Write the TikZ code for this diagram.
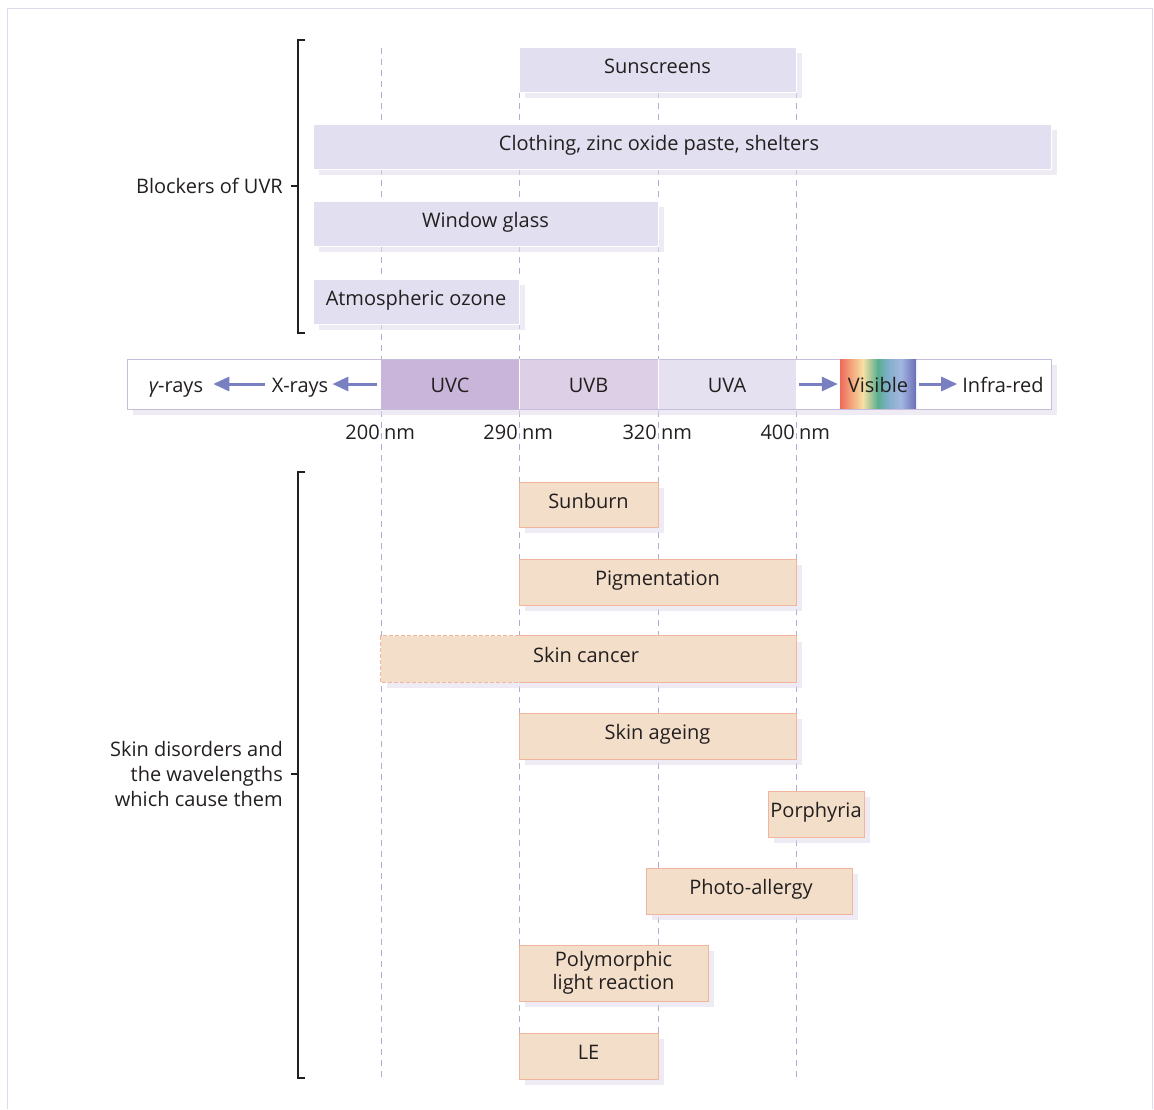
\documentclass[tikz,border=0pt]{standalone}
\usepackage{fontspec}
\setmainfont{Open Sans}
\usetikzlibrary{arrows.meta,shadows,calc}
\definecolor{txt}{HTML}{231F20}
\definecolor{blkfill}{HTML}{E2E0F0}
\definecolor{shdw}{HTML}{E2DBED}
\definecolor{peach}{HTML}{F3DEC9}
\definecolor{peachline}{HTML}{F0B59C}
\definecolor{framec}{HTML}{E2D9EE}
\definecolor{dashc}{HTML}{B5A9D5}
\definecolor{arrowc}{HTML}{7980C2}
\definecolor{uvc}{HTML}{C9B5D9}
\definecolor{uvb}{HTML}{DDD0E6}
\definecolor{uva}{HTML}{E5E1F0}
\definecolor{barline}{HTML}{C8BCDD}
\definecolor{spA}{HTML}{EE6A5C}
\definecolor{spB}{HTML}{F3A279}
\definecolor{spC}{HTML}{F7E0A4}
\definecolor{spD}{HTML}{58AE8E}
\definecolor{spE}{HTML}{7FAEC8}
\definecolor{spF}{HTML}{A3B6E0}
\definecolor{spG}{HTML}{6B6FB6}
\pgfdeclarehorizontalshading{spectrum}{100bp}{color(0bp)=(spA); color(25bp)=(spA); color(32bp)=(spB); color(40bp)=(spC); color(50bp)=(spD); color(56bp)=(spE); color(65bp)=(spF); color(75bp)=(spG); color(100bp)=(spG)}
\begin{document}
\begin{tikzpicture}[x=1pt,y=-1pt,
  base/.style={font=\fontsize{20}{24}\selectfont, text=txt, inner sep=0pt},
  shd/.style={drop shadow={shadow xshift=6pt, shadow yshift=-6pt, fill=shdw, opacity=0.55}},
  cen/.style={text height=14pt, text depth=7pt},
  cenbar/.style={text height=16pt, text depth=0pt},
  blk/.style={base, cen, shd, fill=blkfill, draw=white, line width=1pt},
  pch0/.style={base, shd, fill=peach, draw=peachline, line width=0.8pt},
  pch/.style={pch0, cen},
  seg/.style={base, cenbar, minimum height=49pt},
  guide/.style={dashc, line width=0.9pt, dash pattern=on 6pt off 5pt},
  arr/.style={arrowc, line width=3pt, -{Triangle[length=16pt,width=14pt]}},
  brk/.style={txt, line width=1.2pt},
]
\useasboundingbox (0,0) rectangle (1154,1109);
% frame
\draw[framec, line width=1.5pt] (7.5,1109) -- (7.5,8.5) -- (1152.5,8.5) -- (1152.5,1109);
% guide lines
\foreach \gx in {381,519,658,796} \draw[guide] (\gx,48) -- (\gx,1078);

% blockers
\node[blk, minimum width=277pt, minimum height=45pt] (sun) at (657.5,69.5) {Sunscreens};
\node[blk, minimum width=738pt, minimum height=45pt] (cloth) at (682,146.5) {\hspace*{-46pt}Clothing, zinc oxide paste, shelters};
\node[blk, minimum width=345pt, minimum height=45pt] (glass) at (485.5,223.5) {Window glass};
\node[blk, minimum width=206pt, minimum height=45pt] (ozone) at (416,301.5) {Atmospheric ozone};

% spectrum bar
\node[base, shd, fill=white, draw=barline, line width=1pt, minimum width=924pt, minimum height=50pt] (bar) at (589,384) {};
\node[seg, fill=uvc, minimum width=138pt] (uvc) at (450,384) {UVC};
\node[seg, fill=uvb, minimum width=139pt] (uvb) at (588.5,384) {UVB};
\node[seg, fill=uva, minimum width=138pt] (uva) at (727,384) {UVA};
\draw[white, line width=1.2pt] (uvc.north east) -- (uvc.south east);
\draw[white, line width=1.2pt] (uvb.north east) -- (uvb.south east);
\node[seg, shading=spectrum, minimum width=76pt] (vis) at (878,384) {Visible};
\node[base, cenbar] (gam) at (176,384) {{\itshape γ}-rays};
\node[base, cenbar] (xr) at (300,384) {X-rays};
\node[base, cenbar] (ir) at (1003,384) {Infra-red};
\draw[arr] ([xshift=-4pt]uvc.west) -- ([xshift=4pt]xr.east);
\draw[arr] ([xshift=-7pt]xr.west) -- ([xshift=10pt]gam.east);
\draw[arr] ([xshift=3pt]uva.east) -- ([xshift=-2pt]vis.west);
\draw[arr] ([xshift=3pt]vis.east) -- ([xshift=-5pt]ir.west);

% wavelength labels
\node[base, anchor=base east] (n200) at (380,439.5) {200};
\node[base, anchor=base west] (u200) at (384,439.5) {nm};
\node[base, anchor=base east] (n290) at (518,439.5) {290};
\node[base, anchor=base west] (u290) at (522,439.5) {nm};
\node[base, anchor=base east] (n320) at (657,439.5) {320};
\node[base, anchor=base west] (u320) at (661,439.5) {nm};
\node[base, anchor=base east] (n400) at (795,439.5) {400};
\node[base, anchor=base west] (u400) at (799,439.5) {nm};

% skin disorders
\node[pch, minimum width=139pt, minimum height=45pt] (burn) at (588.5,504.5) {Sunburn};
\node[pch, minimum width=277pt, minimum height=46pt] (pig) at (657.5,582) {Pigmentation};
\node[pch, draw=none, minimum width=415pt, minimum height=46pt] (canc) at (588.5,659) {\hspace*{-5pt}Skin cancer};
\coordinate (cT) at ($(canc.north west)+(138,0)$);
\coordinate (cB) at ($(canc.south west)+(138,0)$);
\draw[peachline, line width=0.8pt, dash pattern=on 4pt off 2pt] (cT) -- (canc.north west) -- (canc.south west) -- (cB);
\draw[peachline, line width=0.8pt] (cT) -- (canc.north east) -- (canc.south east) -- (cB);
\node[pch, minimum width=277pt, minimum height=46pt] (age) at (657.5,736) {Skin ageing};
\node[pch, minimum width=96pt, minimum height=46pt] (porph) at (816,814) {Porphyria};
\node[pch, minimum width=206pt, minimum height=46pt] (photo) at (749,891) {\hspace*{4pt}Photo-allergy};
\node[pch0, minimum width=189pt, minimum height=56pt, align=center, font=\fontsize{20}{23}\selectfont] (poly) at (613.5,973) {Polymorphic\\light reaction};
\node[pch, minimum width=139pt, minimum height=46pt] (le) at (588.5,1056) {LE};

% brackets
\draw[brk] (305,40) -- (298,40) -- (298,333) -- (305,333);
\draw[brk] (298,186) -- (291,186);
\node[base, anchor=base east] (blab) at (283,193) {Blockers of UVR};
\draw[brk] (305,472) -- (298,472) -- (298,1078) -- (305,1078);
\draw[brk] (298,774) -- (291,774);
\node[base, anchor=east, align=right, font=\fontsize{20}{25}\selectfont] (slab) at (283,774) {Skin disorders and\\the wavelengths\\which cause them};
\end{tikzpicture}
\end{document}
